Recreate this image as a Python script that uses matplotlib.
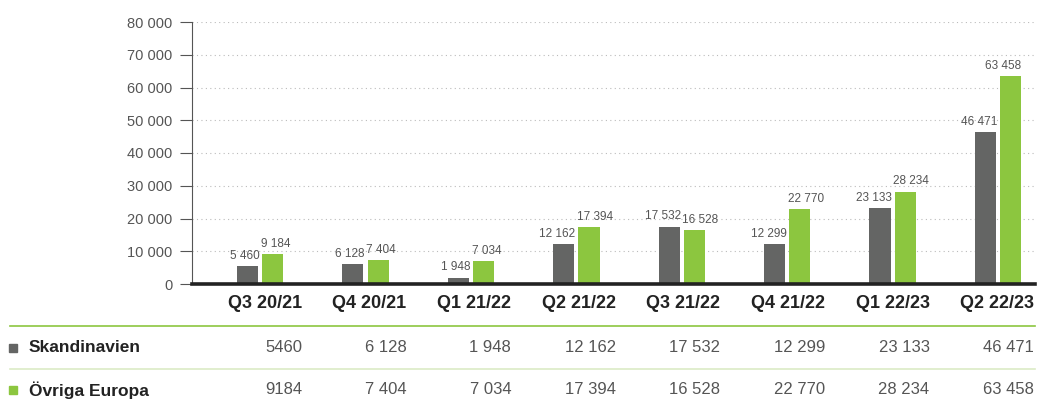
import numpy as np
import matplotlib
matplotlib.use('Agg')
import matplotlib.pyplot as plt

plt.rcParams['font.family'] = ['Liberation Sans', 'DejaVu Sans']

quarters = ['Q3 20/21', 'Q4 20/21', 'Q1 21/22', 'Q2 21/22', 'Q3 21/22', 'Q4 21/22', 'Q1 22/23', 'Q2 22/23']
skandinavien = [5460, 6128, 1948, 12162, 17532, 12299, 23133, 46471]
ovriga_europa = [9184, 7404, 7034, 17394, 16528, 22770, 28234, 63458]
table_skand = ['5460', '6 128', '1 948', '12 162', '17 532', '12 299', '23 133', '46 471']
table_ovriga = ['9184', '7 404', '7 034', '17 394', '16 528', '22 770', '28 234', '63 458']
series_names = ['Skandinavien', 'Övriga Europa']

dark = '#646564'
green = '#8cc63f'
light_green = '#dcebc6'
text_gray = '#555555'
text_dark = '#222222'


def fmt(v):
    return '{:,}'.format(v).replace(',', ' ')


W, H = 1039, 403
fig = plt.figure(figsize=(W / 100, H / 100), dpi=100)
ax = fig.add_axes([192 / W, 1 - 284 / H, (1035 - 192) / W, (284 - 22) / H])

x = np.arange(len(quarters))
bw = 0.2
off = 0.12
b1 = ax.bar(x - off, skandinavien, bw, color=dark, zorder=3)
b2 = ax.bar(x + off, ovriga_europa, bw, color=green, zorder=3)

# dark labels hug the right edge of their bar, green ones the left edge
for r, v in zip(b1, skandinavien):
    ax.annotate(fmt(v), (r.get_x() + r.get_width(), v), xytext=(1, 3),
                textcoords='offset points', ha='right', va='bottom',
                fontsize=8.5, color=text_gray)
for i, (r, v) in enumerate(zip(b2, ovriga_europa)):
    last = i == len(ovriga_europa) - 1
    xa = r.get_x() + (r.get_width() if last else 0)
    ax.annotate(fmt(v), (xa, v), xytext=(0 if last else -1, 3),
                textcoords='offset points', ha='right' if last else 'left',
                va='bottom', fontsize=8.5, color=text_gray)

ax.set_xlim(-0.645, 7.35)
ax.set_ylim(0, 80000)
ax.set_yticks(np.arange(0, 80001, 10000))
ax.set_yticklabels([fmt(v) for v in range(0, 80001, 10000)])
ax.tick_params(axis='y', length=9, width=0.8, color=text_gray, labelsize=10.5,
               labelcolor=text_gray, pad=5)
ax.set_xticks([])
for s in ['top', 'right', 'bottom']:
    ax.spines[s].set_visible(False)
ax.spines['left'].set_color(text_gray)
ax.spines['left'].set_linewidth(0.8)
ax.yaxis.grid(True, linestyle=(0, (1, 3)), color='#bbbbbb', linewidth=0.8, zorder=0)
ax.axhline(0, color=text_dark, linewidth=2.6, zorder=4, clip_on=False)

# table below the chart
col_right = [(302 + 104.6 * i) / W for i in range(len(quarters))]
y_head = 1 - 304 / H
y_row1 = 1 - 348 / H
y_row2 = 1 - 390 / H
for xr, q, s1, s2 in zip(col_right, quarters, table_skand, table_ovriga):
    fig.text(xr, y_head, q, ha='right', va='center', fontsize=13,
             fontweight='bold', color=text_dark)
    fig.text(xr, y_row1, s1, ha='right', va='center', fontsize=12, color=text_gray)
    fig.text(xr, y_row2, s2, ha='right', va='center', fontsize=12, color=text_gray)

fig.add_artist(plt.Line2D([10 / W, 1035 / W], [1 - 326 / H] * 2, color=green, lw=1.2))
fig.add_artist(plt.Line2D([10 / W, 1035 / W], [1 - 369 / H] * 2, color=light_green, lw=1.2))

for yy, name, c in [(y_row1, series_names[0], dark), (y_row2, series_names[1], green)]:
    fig.add_artist(plt.Rectangle((9 / W, yy - 4 / H), 8 / W, 8 / H, color=c))
    fig.text(29 / W, yy, name, ha='left', va='center', fontsize=12.5,
             fontweight='bold', color=text_dark)

fig.savefig('out.png', dpi=100)
